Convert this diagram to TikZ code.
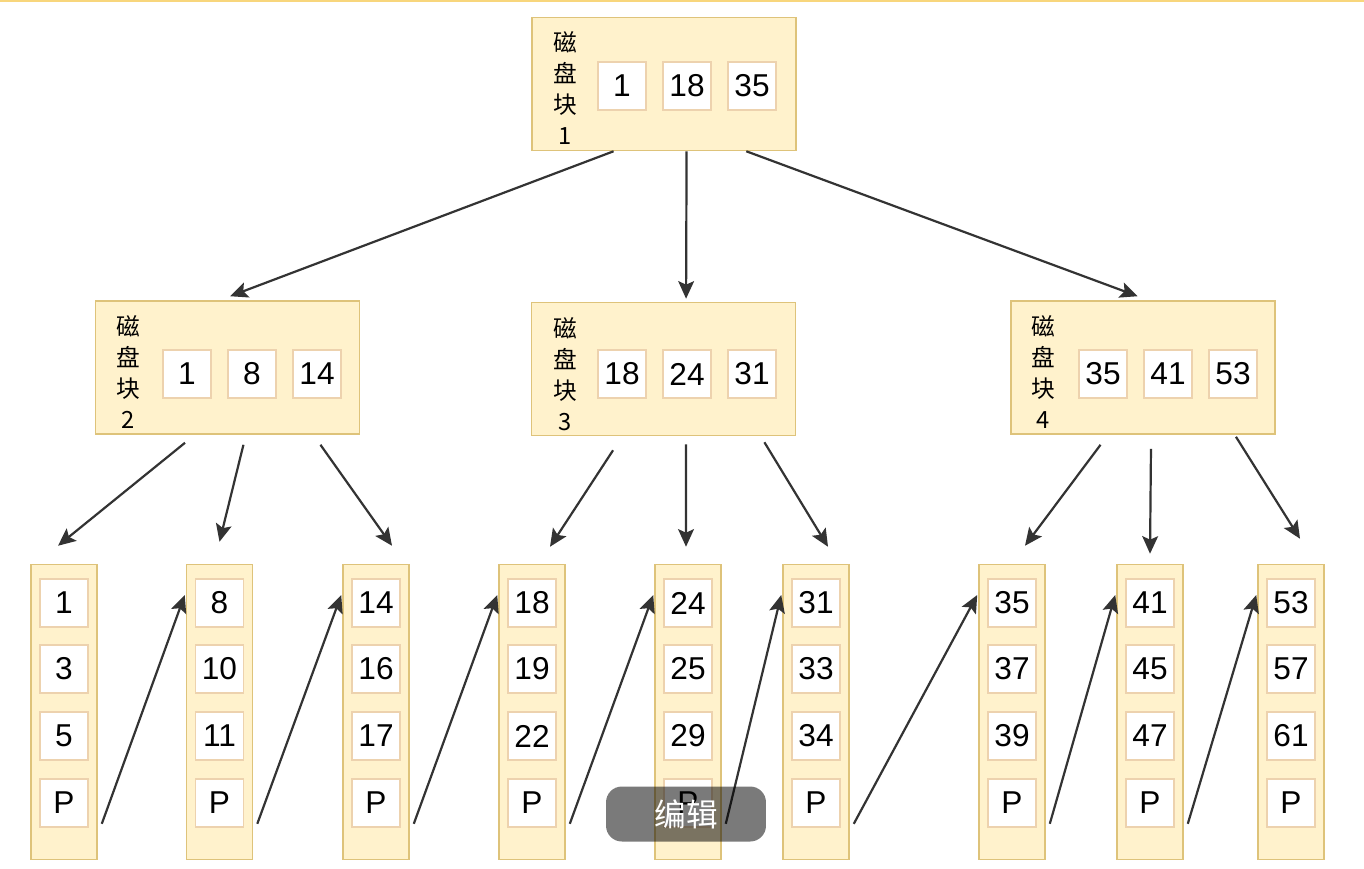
\documentclass[tikz,border=0pt]{standalone}
\usepackage{fontspec}
\setmainfont{Liberation Sans}
\newfontfamily\cjk{Noto Sans CJK SC}
\usetikzlibrary{arrows.meta,calc}
\definecolor{blkfill}{HTML}{FFF2CC}
\definecolor{blkline}{HTML}{DEC37A}
\definecolor{keyline}{HTML}{EDD2AE}
\definecolor{arrowline}{HTML}{333333}
\definecolor{topline}{HTML}{F8D67C}

\begin{document}
\begin{tikzpicture}[
        x=0.02cm, y=-0.02cm,
        blkbox/.style={draw=blkline, fill=blkfill, line width=0.9pt, minimum width=5.28cm, minimum height=2.66cm, inner sep=0pt},
        leafbox/.style={draw=blkline, fill=blkfill, line width=0.9pt, minimum width=1.32cm, minimum height=5.9cm, inner sep=0pt},
        keybox/.style={draw=keyline, fill=white, line width=0.9pt, minimum size=0.96cm, inner sep=0pt, font=\fontsize{18pt}{20pt}\selectfont},
        lbl/.style={align=center, inner sep=0pt, font=\cjk\fontsize{13.5pt}{17.6pt}\selectfont},
        branch/.style={draw=arrowline, line width=1.25pt, -{Stealth[length=10pt,width=9pt,inset=2pt]}},
        link/.style={branch}
    ]
    \useasboundingbox[fill=white] (0,0) rectangle (1364,868);
    \draw[topline, line width=1.6pt] (0,1) -- (1364,1);

    % disk blocks
    \node[blkbox] (d1) at (664,84) {};
    \node[lbl] (t1) at (565,88) {磁\\盘\\块\\1};
    \node[keybox] (d1a) at (622,86) {1};
    \node[keybox] (d1b) at (687,86) {18};
    \node[keybox] (d1c) at (752,86) {35};

    \node[blkbox] (d2) at (227.5,367.5) {};
    \node[lbl] (t2) at (128,372) {磁\\盘\\块\\2};
    \node[keybox] (d2a) at (187,374) {1};
    \node[keybox] (d2b) at (252,374) {8};
    \node[keybox] (d2c) at (317,374) {14};

    \node[blkbox] (d3) at (663.5,369) {};
    \node[lbl] (t3) at (565,374) {磁\\盘\\块\\3};
    \node[keybox] (d3a) at (622,374) {18};
    \node[keybox] (d3b) at (687,374) {24};
    \node[keybox] (d3c) at (752,374) {31};

    \node[blkbox] (d4) at (1143,367.5) {};
    \node[lbl] (t4) at (1043,372) {磁\\盘\\块\\4};
    \node[keybox] (d4a) at (1103,374) {35};
    \node[keybox] (d4b) at (1168,374) {41};
    \node[keybox] (d4c) at (1233,374) {53};

    % leaves
    \foreach \i/\x/\a/\b/\c in {1/64/1/3/5, 2/219.5/8/10/11, 3/376/14/16/17,
            4/532/18/19/22, 5/688/24/25/29, 6/816/31/33/34,
            7/1012/35/37/39, 8/1150/41/45/47, 9/1291/53/57/61} {
        \node[leafbox] (l\i) at (\x,712) {};
        \node[keybox] (l\i-1) at (\x,603) {\a};
        \node[keybox] (l\i-2) at (\x,669) {\b};
        \node[keybox] (l\i-3) at (\x,736) {\c};
        \node[keybox] (l\i-p) at (\x,803) {P};
    }

    % tree arrows
    \draw[branch] ($(d1.south west)!.31!(d1.south east)$) -- ($(d2.north west)!.51!(d2.north east)+(0,-4)$);
    \draw[branch] ($(d1.south west)!.585!(d1.south east)$) -- ($(d3.north west)!.585!(d3.north east)+(0,-3)$);
    \draw[branch] ($(d1.south west)!.81!(d1.south east)$) -- ($(d4.north west)!.48!(d4.north east)+(0,-4)$);

    \draw[branch] ($(d2.south west)!.34!(d2.south east)+(0,8)$) -- ($(l1.north)+(-6,-18)$);
    \draw[branch] ($(d2.south west)!.56!(d2.south east)+(0,10)$) -- ($(l2.north)+(0,-22)$);
    \draw[branch] ($(d2.south west)!.85!(d2.south east)+(0,10)$) -- ($(l3.north)+(16,-18)$);
    \draw[branch] ($(d3.south west)!.31!(d3.south east)+(0,14)$) -- ($(l4.north)+(18,-17)$);
    \draw[branch] ($(d3.south west)!.585!(d3.south east)+(0,8)$) -- ($(l5.north)+(-2,-17)$);
    \draw[branch] ($(d3.south west)!.88!(d3.south east)+(0,6)$) -- ($(l6.north)+(12,-17)$);
    \draw[branch] ($(d4.south west)!.34!(d4.south east)+(0,10)$) -- ($(l7.north)+(13,-18)$);
    \draw[branch] ($(d4.south west)!.53!(d4.south east)+(0,14)$) -- ($(l8.north)+(0,-10)$);
    \draw[branch] ($(d4.south west)!.85!(d4.south east)+(0,2)$) -- ($(l9.north)+(9,-25)$);

    % leaf links
    \foreach \i/\j in {1/2, 2/3, 3/4, 4/5, 5/6, 6/7, 7/8, 8/9}
        \draw[link] ($(l\i-p.south east)+(13,-4)$) -- ($(l\j-1.west)+(-10,-8)$);

    \node[fill=black, fill opacity=.52, text opacity=1, text=white, rounded corners=9pt,
        minimum width=3.2cm, minimum height=1.1cm, font=\cjk\fontsize{18pt}{20pt}\selectfont] (editbtn) at (686,814) {编辑};
\end{tikzpicture}
\end{document}
